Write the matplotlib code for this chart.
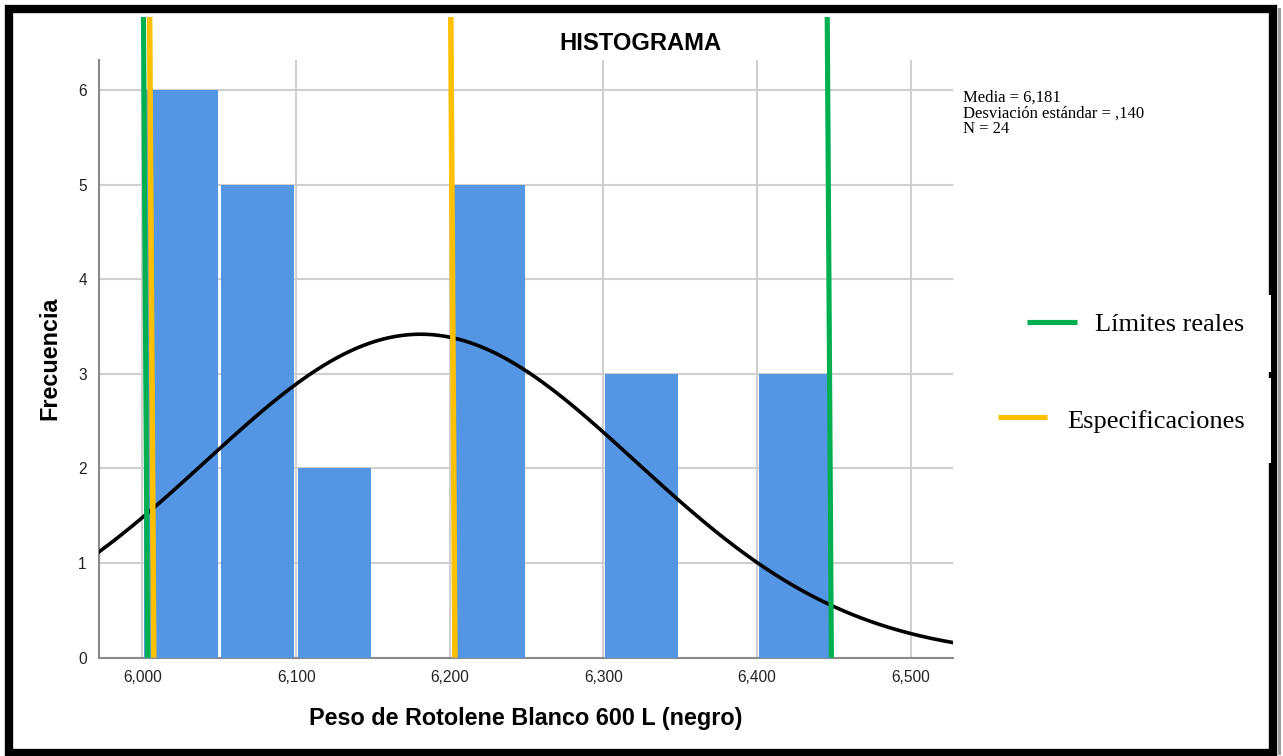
import numpy as np
import matplotlib
matplotlib.use("Agg")
import matplotlib.pyplot as plt
from matplotlib.patches import Rectangle
from matplotlib.lines import Line2D
from matplotlib.ticker import FuncFormatter

# Histogram data: left edge of each bin and its frequency
bin_left = [6.00, 6.05, 6.10, 6.15, 6.20, 6.25, 6.30, 6.35, 6.40]
counts = [6, 5, 2, 0, 5, 0, 3, 0, 3]
bin_width = 0.05

# Summary statistics (normal curve)
media = 6.181
desv = 0.140
n = 24

# Reference lines
limites_reales = [6.002, 6.447]
especificaciones = [6.006, 6.202]

x_ticks = [6.0, 6.1, 6.2, 6.3, 6.4, 6.5]
y_ticks = [0, 1, 2, 3, 4, 5, 6]

W, H = 1283, 756
fig = plt.figure(figsize=(W / 100, H / 100), dpi=100)
fig.patch.set_facecolor("white")


def fx(px):
    return px / W


def fy(py):
    return 1 - py / H


sans = "Liberation Sans"
serif = "Liberation Serif"

ax = fig.add_axes([fx(99.3), fy(657.7), fx(953) - fx(99.3), fy(60) - fy(657.7)])
ax.set_xlim(5.9719, 6.5275)
ax.set_ylim(0, 6.318)

# bars with a small gap between neighbours
gap = 0.0023
ax.bar([b + gap / 2 for b in bin_left], counts, width=bin_width - gap,
       align="edge", color="#5596e4", edgecolor="none", zorder=2)

# normal curve scaled to the histogram
xs = np.linspace(5.9719, 6.5275, 400)
ys = n * bin_width / (desv * np.sqrt(2 * np.pi)) * np.exp(-0.5 * ((xs - media) / desv) ** 2)
ax.plot(xs, ys, color="black", lw=2.6, zorder=3)

# grid and axes styling
ax.set_xticks(x_ticks)
ax.set_yticks(y_ticks)
ax.set_axisbelow(True)
ax.grid(True, color="#cfcfcf", lw=1.5, zorder=0)
for side in ("top", "right"):
    ax.spines[side].set_visible(False)
for side in ("left", "bottom"):
    ax.spines[side].set_color("#8a8a8a")
    ax.spines[side].set_linewidth(1.5)
    ax.spines[side].set_zorder(1)
ax.tick_params(length=0, labelsize=11.2, colors="#222222", pad=9)
ax.xaxis.set_major_formatter(FuncFormatter(lambda v, p: f"{v:.3f}".replace(".", ",")))
for lab in ax.get_xticklabels() + ax.get_yticklabels():
    lab.set_fontfamily(sans)

# vertical reference lines (slightly leaning, drawn above the plot area)
top_y = (657.7 - 17) / 94.6
lean = 0.0027
for v in limites_reales:
    ax.plot([v + lean / 2, v - lean / 2], [0, top_y], color="#00b050", lw=3.7,
            solid_capstyle="butt", clip_on=False, zorder=5)
for v in especificaciones:
    ax.plot([v + lean / 2, v - lean / 2], [0, top_y], color="#ffc000", lw=4.0,
            solid_capstyle="butt", clip_on=False, zorder=5)

# titles and labels
fig.text(fx(640), fy(44), "HISTOGRAMA", ha="center", va="center",
         fontsize=17.1, fontweight="bold", family=sans)
fig.text(fx(526), fy(718), "Peso de Rotolene Blanco 600 L (negro)", ha="center",
         va="center", fontsize=16.8, fontweight="bold", family=sans)
fig.text(fx(50), fy(358), "Frecuencia", ha="center", va="center", rotation=90,
         fontsize=16.8, fontweight="bold", family=sans)

stats = (f"Media = {media:.3f}".replace(".", ",") + "\n"
         + f"Desviación estándar = {desv:.3f}".replace("0.", ",") + "\n"
         + f"N = {n}")
fig.text(fx(963), fy(90), stats, ha="left", va="top", fontsize=12.0,
         family=serif, linespacing=0.97)

# legend
fig.add_artist(Line2D([fx(1027), fx(1077)], [fy(322), fy(322)], color="#00b050",
                      lw=3.7, solid_capstyle="butt"))
fig.text(fx(1095), fy(330.7), "Límites reales", ha="left", va="baseline",
         fontsize=19, family=serif)
fig.add_artist(Line2D([fx(998), fx(1047)], [fy(417), fy(417)], color="#ffc000",
                      lw=3.7, solid_capstyle="butt"))
fig.text(fx(1067), fy(428), "Especificaciones", ha="left", va="baseline",
         fontsize=19, family=serif)

# outer frame
fig.add_artist(Rectangle((fx(1278), fy(755)), fx(3), fy(8) - fy(755),
                         facecolor="#9a9a9a", edgecolor="none"))
fig.add_artist(Rectangle((fx(9), fy(753)), fx(1272.5) - fx(9), fy(9) - fy(753),
                         facecolor="none", edgecolor="black", lw=6.0))
fig.add_artist(Rectangle((fx(1262), fy(372)), fx(8.5), fy(295) - fy(372),
                         facecolor="white", edgecolor="none"))
fig.add_artist(Rectangle((fx(1262), fy(463)), fx(8.5), fy(378) - fy(463),
                         facecolor="white", edgecolor="none"))

fig.savefig("out.png", dpi=100)
